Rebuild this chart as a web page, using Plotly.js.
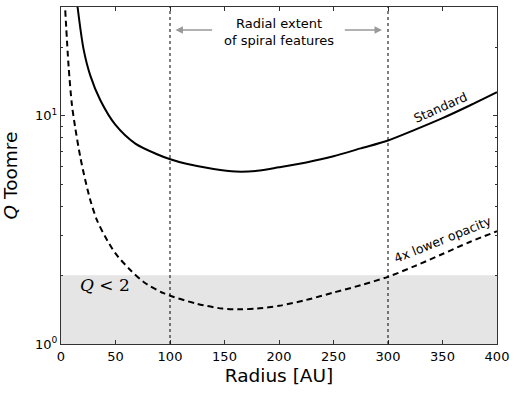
<!DOCTYPE html>
<html>
<head>
<meta charset="utf-8">
<script src="https://cdn.plot.ly/plotly-3.0.1.min.js"></script>
<style>
  html, body { margin: 0; padding: 0; background: #fff; }
  #plot { width: 517px; height: 393px; }
</style>
</head>
<body>
<div id="plot"></div>
<script>
// Standard model
var r_standard = [15.2, 20.7, 26.9, 36.1, 49.8, 68.2, 88.1, 100.3, 114, 140, 160, 180, 200, 225, 250, 275, 300, 325, 350, 375, 400];
var q_standard = [30, 19.6, 15.0, 11.7, 9.15, 7.56, 6.79, 6.45, 6.18, 5.85, 5.70, 5.74, 5.95, 6.25, 6.65, 7.2, 7.8, 8.7, 9.77, 11.1, 12.7];

// 4x lower opacity model
var r_lowop = [3.9, 7, 10, 13, 17.7, 22.3, 26.9, 33, 40.6, 49.8, 63.6, 75.8, 94.1, 125, 148, 165, 180, 200, 225, 250, 275, 300, 325, 350, 375, 400];
var q_lowop = [29, 16.4, 11.2, 8.9, 6.6, 5.22, 4.27, 3.49, 2.95, 2.5, 2.11, 1.87, 1.67, 1.5, 1.43, 1.42, 1.43, 1.47, 1.56, 1.68, 1.81, 1.97, 2.2, 2.48, 2.8, 3.12];

// spiral features extent
var spiral_r = [100, 300];
var q_crit = 2;

var font_main = 'DejaVu Sans, sans-serif';

var trace_standard = {
    x: r_standard,
    y: q_standard,
    type: 'scatter',
    mode: 'lines',
    line: {color: '#000', width: 2, shape: 'spline', smoothing: 0.8},
    hoverinfo: 'skip'
};
var trace_lowop = {
    x: r_lowop,
    y: q_lowop,
    type: 'scatter',
    mode: 'lines',
    line: {color: '#000', width: 2, dash: '6px,4px', shape: 'spline', smoothing: 0.8},
    hoverinfo: 'skip'
};

var shapes = [
    {type: 'rect', xref: 'x', yref: 'y', x0: 0, x1: 400, y0: 1, y1: q_crit,
     fillcolor: '#e5e5e5', line: {width: 0}, layer: 'below'}
];
spiral_r.forEach(function (r) {
    shapes.push({type: 'line', xref: 'x', yref: 'paper', x0: r, x1: r, y0: 0, y1: 1,
                 line: {color: '#000', width: 1, dash: 'dot'}});
});

var arrow_y = Math.log10(23.8);
var annotations = [
    {x: 200, y: Math.log10(23.2), xref: 'x', yref: 'y', text: 'Radial extent<br>of spiral features',
     showarrow: false, font: {family: font_main, size: 13, color: '#000'}},
    {x: 105, y: arrow_y, ax: 140, ay: arrow_y, xref: 'x', yref: 'y', axref: 'x', ayref: 'y',
     text: '', showarrow: true, arrowhead: 2, arrowsize: 1, arrowwidth: 1.5, arrowcolor: '#999'},
    {x: 294.5, y: arrow_y, ax: 259, ay: arrow_y, xref: 'x', yref: 'y', axref: 'x', ayref: 'y',
     text: '', showarrow: true, arrowhead: 2, arrowsize: 1, arrowwidth: 1.5, arrowcolor: '#999'},
    {x: 348, y: Math.log10(10.9), xref: 'x', yref: 'y', text: 'Standard', textangle: -24,
     showarrow: false, font: {family: font_main, size: 12.5, color: '#000'}},
    {x: 350, y: Math.log10(2.86), xref: 'x', yref: 'y', text: '4x lower opacity', textangle: -22,
     showarrow: false, font: {family: font_main, size: 12.5, color: '#000'}},
    {x: 40.5, y: Math.log10(1.81), xref: 'x', yref: 'y', text: '<i>Q</i> &lt; 2',
     showarrow: false, font: {family: 'DejaVu Serif, serif', size: 17, color: '#000'}}
];

var layout = {
    width: 517,
    height: 393,
    margin: {l: 61, r: 20, t: 7, b: 49},
    paper_bgcolor: '#fff',
    plot_bgcolor: '#fff',
    showlegend: false,
    font: {family: font_main, size: 13, color: '#000'},
    xaxis: {
        range: [0, 400],
        tickvals: [0, 50, 100, 150, 200, 250, 300, 350, 400],
        ticks: 'inside', ticklen: 4, tickcolor: '#333',
        mirror: 'ticks', showline: true, linecolor: '#333', linewidth: 1,
        showgrid: false, zeroline: false,
        tickfont: {family: font_main, size: 13},
        title: {text: 'Radius [AU]', font: {family: font_main, size: 18.5}, standoff: 6}
    },
    yaxis: {
        type: 'log',
        range: [0, Math.log10(30)],
        tickvals: [1, 10],
        ticktext: ['10<sup>0</sup>', '10<sup>1</sup>'],
        ticks: 'inside', ticklen: 4, tickcolor: '#333',
        minor: {tickvals: [2, 3, 4, 5, 6, 7, 8, 9, 20, 30], ticks: 'inside', ticklen: 2, tickcolor: '#333', showgrid: false},
        mirror: 'ticks', showline: true, linecolor: '#333', linewidth: 1,
        showgrid: false, zeroline: false,
        tickfont: {family: font_main, size: 13},
        title: {text: '<i>Q</i> Toomre', font: {family: font_main, size: 18.5}, standoff: 12}
    },
    shapes: shapes,
    annotations: annotations
};

Plotly.newPlot('plot', [trace_standard, trace_lowop], layout, {staticPlot: true, displayModeBar: false});
</script>
</body>
</html>
